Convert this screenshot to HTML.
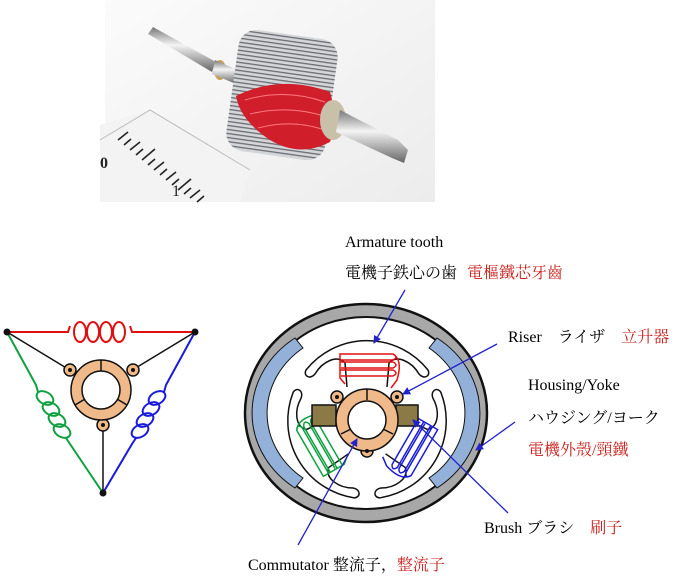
<!DOCTYPE html>
<html><head><meta charset="utf-8"><style>
html,body{margin:0;padding:0;background:#fff;}
svg{display:block;}
text{font-family:"Liberation Serif","Noto Serif CJK SC","Noto Sans CJK JP",serif;font-size:16px;}
</style></head><body>
<svg width="700" height="579" viewBox="0 0 700 579" xmlns="http://www.w3.org/2000/svg">
<defs>
<linearGradient id="bg" x1="0" y1="0" x2="1" y2="1"><stop offset="0" stop-color="#fbfbfb"/><stop offset="1" stop-color="#ececec"/></linearGradient>
<linearGradient id="shaft" x1="0" y1="0" x2="0" y2="1"><stop offset="0" stop-color="#777"/><stop offset="0.4" stop-color="#f4f4f4"/><stop offset="1" stop-color="#666"/></linearGradient>
<pattern id="lam" width="4" height="4" patternUnits="userSpaceOnUse"><rect width="4" height="4" fill="#d4d6d9"/><rect width="4" height="1.3" fill="#6a6d72"/></pattern>
<marker id="ar" markerWidth="8" markerHeight="8" refX="7" refY="4" orient="auto" markerUnits="userSpaceOnUse"><path d="M0,0 L8,4 L0,8 z" fill="#2222cc"/></marker>
<path id="tooth" d="M -20,-33 L -22,-57 C -30,-66 -45,-58 -52,-46 C -57,-40 -64,-44 -61,-50 A 78 78 0 0 1 61,-50 C 64,-44 57,-40 52,-46 C 45,-58 30,-66 22,-57 L 20,-33" fill="#fff" stroke="#111" stroke-width="1.5"/>
<path id="coil" d="M-22,-36 L-27,-42 L-27,-66 L26,-66 Q32,-63 26,-60 L-26,-60 M-27,-58 L26,-58 Q32,-55 26,-52 L-26,-52 M-27,-50 L26,-50 Q32,-47 26,-44 L-26,-44 M26,-66 Q36,-60 30,-40 L24,-32" fill="none" stroke-width="1.5"/>
</defs>
<!-- photo -->
<rect x="105" y="0" width="330" height="202" fill="url(#bg)"/>
<polygon points="100,125 150,110 250,170 240,202 100,202" fill="#f3f3f3"/>
<path d="M100,140 L150,110 L250,170" fill="none" stroke="#bbb"/>
<g stroke="#222" stroke-width="1.6">
<line x1="118" y1="140" x2="128" y2="132"/><line x1="124" y1="145" x2="131" y2="139"/><line x1="130" y1="150" x2="140" y2="142"/><line x1="136" y1="155" x2="143" y2="149"/><line x1="142" y1="160" x2="155" y2="149"/><line x1="148" y1="165" x2="155" y2="159"/><line x1="154" y1="170" x2="164" y2="162"/><line x1="160" y1="175" x2="167" y2="169"/><line x1="166" y1="180" x2="176" y2="172"/><line x1="172" y1="185" x2="179" y2="179"/><line x1="178" y1="190" x2="191" y2="179"/><line x1="184" y1="194" x2="191" y2="188"/><line x1="190" y1="198" x2="200" y2="190"/><line x1="197" y1="202" x2="204" y2="196"/>
</g>
<text x="100" y="168" font-size="20" font-weight="bold" fill="#222">0</text>
<text x="172" y="196" font-size="14" fill="#222">1</text>
<polygon points="148,34 153,27 216,62 212,72" fill="url(#shaft)"/>
<ellipse cx="220" cy="70" rx="6" ry="10" fill="#c9a050"/>
<polygon points="215,60 242,72 236,84 212,74" fill="url(#shaft)"/>
<rect x="232" y="34" width="100" height="122" rx="18" fill="url(#lam)" transform="rotate(8 282 95)"/>
<path d="M236,96 Q280,74 330,92 Q338,120 330,142 Q300,158 270,140 Q240,120 236,96Z" fill="#d01f2a"/>
<path d="M245,100 Q285,88 325,102 M250,114 Q290,104 330,118 M258,128 Q295,118 330,132" stroke="#ff7a80" fill="none"/>
<ellipse cx="333" cy="120" rx="13" ry="20" fill="#c8c0a8"/>
<polygon points="340,110 398,140 408,150 404,163 392,158 336,132" fill="url(#shaft)"/>
<!-- left triangle -->
<g fill="none" stroke-width="2">
<path d="M7,332 L68,332 L70,326 M130,326 L132,332 L195,332" stroke="#e01010"/>
<g stroke="#e01010"><ellipse cx="80" cy="332" rx="6" ry="10"/><ellipse cx="93" cy="332" rx="6" ry="10"/><ellipse cx="106" cy="332" rx="6" ry="10"/><ellipse cx="119" cy="332" rx="6" ry="10"/></g>
<path d="M7,332 L36,385 L38,392 M66,438 L70,444 L103,493" stroke="#10a040"/>
<g stroke="#10a040"><ellipse cx="45" cy="398" rx="9" ry="6" transform="rotate(30 45 398)"/><ellipse cx="51" cy="409" rx="9" ry="6" transform="rotate(30 51 409)"/><ellipse cx="57" cy="420" rx="9" ry="6" transform="rotate(30 57 420)"/><ellipse cx="62" cy="431" rx="9" ry="6" transform="rotate(30 62 431)"/></g>
<path d="M195,332 L166,385 L164,392 M136,438 L132,444 L103,493" stroke="#1a1adb"/>
<g stroke="#1a1adb"><ellipse cx="157" cy="398" rx="9" ry="6" transform="rotate(-30 157 398)"/><ellipse cx="151" cy="409" rx="9" ry="6" transform="rotate(-30 151 409)"/><ellipse cx="145" cy="420" rx="9" ry="6" transform="rotate(-30 145 420)"/><ellipse cx="140" cy="431" rx="9" ry="6" transform="rotate(-30 140 431)"/></g>
<path d="M7,332 L68,369 M195,332 L134,369 M103,493 L103,424" stroke="#111" stroke-width="1.5"/>
</g>
<g stroke="#111" stroke-width="1.5">
<circle cx="70" cy="370" r="6" fill="#f0b98a"/><circle cx="133" cy="370" r="6" fill="#f0b98a"/><circle cx="103" cy="425" r="6" fill="#f0b98a"/>
<circle cx="101" cy="390" r="30" fill="#f0b98a"/><circle cx="101" cy="390" r="19" fill="#fff"/>
<line x1="101" y1="360" x2="101" y2="371"/><line x1="75" y1="405" x2="85" y2="399"/><line x1="127" y1="405" x2="117" y2="399"/>
</g>
<g fill="#111"><circle cx="70" cy="370" r="2"/><circle cx="133" cy="370" r="2"/><circle cx="103" cy="425" r="2"/>
<circle cx="7" cy="332" r="3.5"/><circle cx="195" cy="332" r="3.5"/><circle cx="103" cy="493" r="3.5"/></g>
<!-- motor -->
<ellipse cx="366" cy="413" rx="121" ry="109" fill="#a8a8a8" stroke="#111" stroke-width="2.5"/>
<ellipse cx="366" cy="413" rx="107" ry="96" fill="#fff" stroke="#111" stroke-width="2"/>
<path d="M295,338 A102,92 0 0 0 295,488 L303,478 A92,82 0 0 1 303,348 Z" fill="#93b0d8" stroke="#111" stroke-width="1"/>
<path d="M437,338 A102,92 0 0 1 437,488 L429,478 A92,82 0 0 0 429,348 Z" fill="#93b0d8" stroke="#111" stroke-width="1"/>
<g transform="translate(367,420)">
<use href="#tooth"/>
<use href="#tooth" transform="rotate(120)"/>
<use href="#tooth" transform="rotate(-120)"/>
<use href="#coil" stroke="#e01010"/>
<use href="#coil" stroke="#1a1adb" transform="rotate(120)"/>
<use href="#coil" stroke="#10a040" transform="rotate(-120)"/>
</g>
<g stroke="#111" stroke-width="1.5">
<rect x="312" y="405" width="24" height="21" fill="#8c7a46"/><rect x="396" y="405" width="22" height="21" fill="#8c7a46"/>
<circle cx="337" cy="397" r="6" fill="#f0b98a"/><circle cx="397" cy="397" r="6" fill="#f0b98a"/><circle cx="367" cy="451" r="6" fill="#f0b98a"/>
<circle cx="367" cy="420" r="31" fill="#f0b98a"/><circle cx="367" cy="420" r="19" fill="#fff"/>
<line x1="367" y1="389" x2="367" y2="400"/><line x1="341" y1="434" x2="351" y2="429"/><line x1="393" y1="434" x2="383" y2="429"/>
</g>
<g fill="#111"><circle cx="337" cy="397" r="2"/><circle cx="397" cy="397" r="2"/><circle cx="367" cy="451" r="2"/></g>
<!-- arrows -->
<g stroke="#2222cc" stroke-width="1.3" marker-end="url(#ar)">
<line x1="405" y1="290" x2="374" y2="343"/>
<line x1="497" y1="344" x2="403" y2="394"/>
<line x1="515" y1="422" x2="476" y2="450"/>
<line x1="508" y1="513" x2="413" y2="420"/>
<line x1="298" y1="545" x2="357" y2="439"/>
</g>
<!-- labels -->
<text x="345" y="247">Armature tooth</text>
<text x="345" y="278">電機子鉄心の歯</text>
<text x="467" y="278" fill="#c8201e">電樞鐵芯牙齒</text>
<text x="508" y="342">Riser　ライザ　<tspan fill="#c8201e">立升器</tspan></text>
<text x="528" y="390">Housing/Yoke</text>
<text x="528" y="423">ハウジング/ヨーク</text>
<text x="528" y="455" fill="#c8201e">電機外殼/頸鐵</text>
<text x="484" y="533">Brush  ブラシ　<tspan fill="#c8201e">刷子</tspan></text>
<text x="248" y="570">Commutator 整流子，<tspan fill="#c8201e">整流子</tspan></text>
</svg>
</body></html>
